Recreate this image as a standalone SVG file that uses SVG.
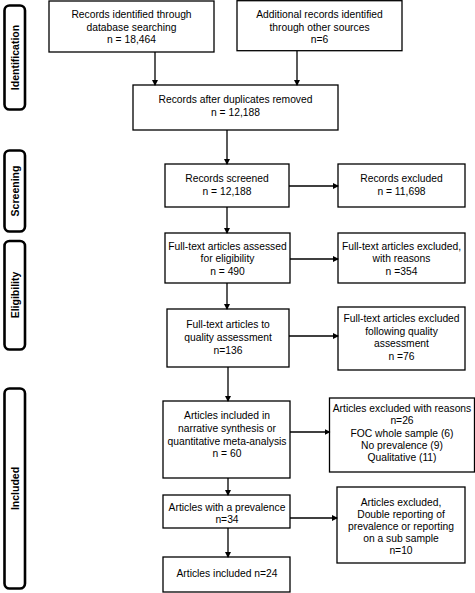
<svg xmlns="http://www.w3.org/2000/svg" width="475" height="593" viewBox="0 0 475 593">
<defs>
<marker id="ah" markerWidth="6" markerHeight="6" refX="5" refY="3" orient="auto" markerUnits="userSpaceOnUse">
<path d="M0,0 L6,3 L0,6 Z" fill="#000"/>
</marker>
<style>
.b{fill:#fff;stroke:#000;stroke-width:1.3}
.s{fill:#fff;stroke:#000;stroke-width:2.6}
.t{font-family:"Liberation Sans",Arial,sans-serif;font-size:10.3px;fill:#000;text-anchor:middle}
.st{font-family:"Liberation Sans",Arial,sans-serif;font-size:10.5px;font-weight:bold;fill:#000;text-anchor:middle}
.c{stroke:#000;stroke-width:1.3;fill:none;marker-end:url(#ah)}
</style>
</defs>
<rect width="475" height="593" fill="#fff"/>
<g id="stage-identification"><rect class="s" x="4.5" y="5.5" width="20.5" height="104" rx="5"/><text class="st" transform="translate(18.5,57.5) rotate(-90)">Identification</text></g>
<g id="stage-screening"><rect class="s" x="4.5" y="150.5" width="20.5" height="81" rx="5"/><text class="st" transform="translate(18.5,191) rotate(-90)">Screening</text></g>
<g id="stage-eligibility"><rect class="s" x="4.5" y="241" width="20.5" height="108.5" rx="5"/><text class="st" transform="translate(18.5,295) rotate(-90)">Eligibility</text></g>
<g id="stage-included"><rect class="s" x="4.5" y="388.5" width="20.5" height="200" rx="5"/><text class="st" transform="translate(18.5,488.5) rotate(-90)">Included</text></g>

<g id="n1"><rect class="b" x="49" y="1" width="165" height="51"/>
<text class="t" x="131.5" y="18">Records identified through</text><text class="t" x="131.5" y="30.5">database searching</text><text class="t" x="131.5" y="43">n = 18,464</text></g>
<g id="n2"><rect class="b" x="237" y="0.7" width="165" height="50"/>
<text class="t" x="319.5" y="18">Additional records identified</text><text class="t" x="319.5" y="30.5">through other sources</text><text class="t" x="319.5" y="43">n=6</text></g>
<g id="n3"><rect class="b" x="133" y="85" width="205" height="45"/>
<text class="t" x="235.5" y="103">Records after duplicates removed</text><text class="t" x="235.5" y="116">n = 12,188</text></g>
<g id="n4"><rect class="b" x="165" y="164" width="124" height="43"/>
<text class="t" x="227" y="182">Records screened</text><text class="t" x="227" y="195">n = 12,188</text></g>
<g id="n5"><rect class="b" x="338" y="164" width="127" height="43"/>
<text class="t" x="401.5" y="182">Records excluded</text><text class="t" x="401.5" y="195">n = 11,698</text></g>
<g id="n6"><rect class="b" x="165" y="233" width="125" height="50"/>
<text class="t" x="227.5" y="249.5">Full-text articles assessed</text><text class="t" x="227.5" y="262">for eligibility</text><text class="t" x="227.5" y="274.5">n = 490</text></g>
<g id="n7"><rect class="b" x="338" y="233" width="127" height="50"/>
<text class="t" x="401.5" y="249.5">Full-text articles excluded,</text><text class="t" x="401.5" y="262">with reasons</text><text class="t" x="401.5" y="274.5">n =354</text></g>
<g id="n8"><rect class="b" x="167" y="309" width="122" height="58"/>
<text class="t" x="228" y="328">Full-text articles to</text><text class="t" x="228" y="341">quality assessment</text><text class="t" x="228" y="354">n=136</text></g>
<g id="n9"><rect class="b" x="338" y="307" width="127" height="63"/>
<text class="t" x="401.5" y="322">Full-text articles excluded</text><text class="t" x="401.5" y="334.5">following quality</text><text class="t" x="401.5" y="347">assessment</text><text class="t" x="401.5" y="359.5">n =76</text></g>
<g id="n10"><rect class="b" x="163" y="401" width="127" height="77"/>
<text class="t" x="227" y="419">Articles included in</text><text class="t" x="227" y="432">narrative synthesis or</text><text class="t" x="227" y="444.5">quantitative meta-analysis</text><text class="t" x="227" y="457">n = 60</text></g>
<g id="n11"><rect class="b" x="329.5" y="398" width="145" height="74"/>
<text class="t" x="402" y="412">Articles excluded with reasons</text><text class="t" x="402" y="424">n=26</text><text class="t" x="402" y="436.5">FOC whole sample (6)</text><text class="t" x="402" y="449">No prevalence (9)</text><text class="t" x="402" y="461">Qualitative (11)</text></g>
<g id="n12"><rect class="b" x="163" y="495" width="127" height="33"/>
<text class="t" x="227" y="511">Articles with a prevalence</text><text class="t" x="227" y="523">n=34</text></g>
<g id="n13"><rect class="b" x="337" y="487" width="128" height="76"/>
<text class="t" x="401" y="505.5">Articles excluded,</text><text class="t" x="401" y="517.5">Double reporting of</text><text class="t" x="401" y="529.5">prevalence or reporting</text><text class="t" x="401" y="542">on a sub sample</text><text class="t" x="401" y="554">n=10</text></g>
<g id="n14"><rect class="b" x="163" y="557" width="127" height="35"/>
<text class="t" x="227" y="577">Articles included n=24</text></g>

<g id="connectors">
<line class="c" x1="155" y1="52" x2="155" y2="85"/>
<line class="c" x1="297" y1="51" x2="297" y2="85"/>
<line class="c" x1="227" y1="130" x2="227" y2="164"/>
<line class="c" x1="289" y1="186" x2="338" y2="186"/>
<line class="c" x1="227" y1="207" x2="227" y2="233"/>
<line class="c" x1="290" y1="259" x2="338" y2="259"/>
<line class="c" x1="227" y1="283" x2="227" y2="309"/>
<line class="c" x1="289" y1="336" x2="338" y2="336"/>
<line class="c" x1="228" y1="367" x2="228" y2="401"/>
<line class="c" x1="290" y1="432" x2="329.5" y2="432"/>
<line class="c" x1="228" y1="478" x2="228" y2="495"/>
<line class="c" x1="290" y1="518" x2="337" y2="518"/>
<line class="c" x1="228" y1="528" x2="228" y2="557"/>
</g>
</svg>
